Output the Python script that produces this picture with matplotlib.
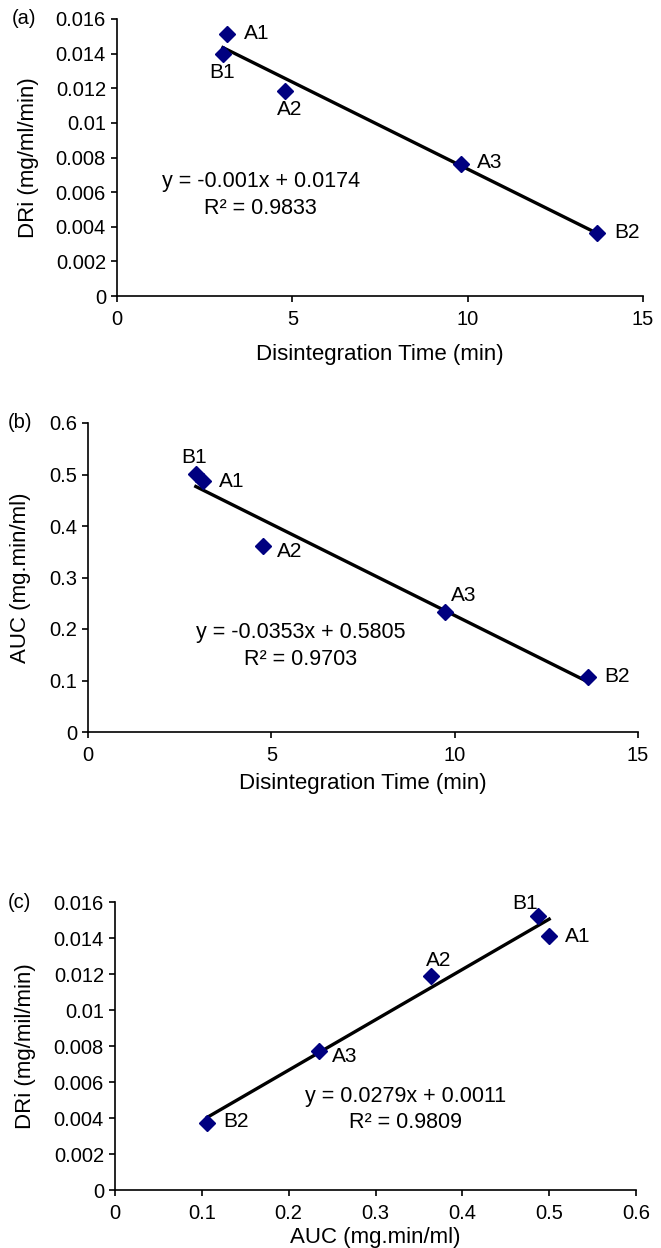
import numpy as np
import matplotlib
matplotlib.use("Agg")
import matplotlib.pyplot as plt
from matplotlib.ticker import FuncFormatter

plt.rcParams['font.family'] = ['Liberation Sans', 'DejaVu Sans']

# ---- data ----
labels_a = ["A1", "B1", "A2", "A3", "B2"]
dt_a = [3.14, 3.02, 4.80, 9.81, 13.69]
dri_a = [0.01514, 0.01398, 0.01187, 0.00764, 0.00365]
eq_a = "y = -0.001x + 0.0174"
r2_a = "R² = 0.9833"

labels_b = ["B1", "A1", "A2", "A3", "B2"]
dt_b = [2.94, 3.13, 4.78, 9.74, 13.63]
auc_b = [0.5016, 0.487, 0.362, 0.2337, 0.1068]
eq_b = "y = -0.0353x + 0.5805"
r2_b = "R² = 0.9703"

labels_c = ["B1", "A1", "A2", "A3", "B2"]
auc_c = [0.4875, 0.500, 0.3644, 0.2345, 0.1065]
dri_c = [0.01522, 0.01410, 0.01188, 0.00773, 0.00374]
eq_c = "y = 0.0279x + 0.0011"
r2_c = "R² = 0.9809"

MARKER_COLOR = "#000080"
TICK_FS = 14.5
LABEL_FS = 16
ANN_FS = 15
EQ_FS = 15.5

fig = plt.figure(figsize=(6.61, 12.48), dpi=100)

def fmt(v, pos):
    return "{:g}".format(round(v, 6))

def style(ax, xlim, ylim, xticks, yticks):
    ax.set_xlim(*xlim)
    ax.set_ylim(*ylim)
    ax.set_xticks(xticks)
    ax.set_yticks(yticks)
    ax.xaxis.set_major_formatter(FuncFormatter(fmt))
    ax.yaxis.set_major_formatter(FuncFormatter(fmt))
    for s in ("top", "right"):
        ax.spines[s].set_visible(False)
    for s in ("left", "bottom"):
        ax.spines[s].set_linewidth(1.2)
    ax.tick_params(direction="out", length=4, width=1.2, labelsize=TICK_FS, pad=4)
    ax.tick_params(axis="x", pad=6)

def plot_panel(ax, x, y, labels, offsets, eq, r2, eqpos):
    x = np.asarray(x)
    y = np.asarray(y)
    m, b = np.polyfit(x, y, 1)
    xs = np.array([x.min(), x.max()])
    ax.plot(xs, m * xs + b, color="black", lw=2.4, zorder=2, clip_on=False)
    ax.plot(x, y, linestyle="none", marker="D", markersize=8.5,
            color=MARKER_COLOR, zorder=3, clip_on=False)
    for xi, yi, lab in zip(x, y, labels):
        dx, dy, ha = offsets[lab]
        ax.annotate(lab, (xi, yi), xytext=(dx, dy), textcoords="offset pixels",
                    ha=ha, va="center", fontsize=ANN_FS)
    ax.text(eqpos[0], eqpos[1], eq, ha="center", va="center", fontsize=EQ_FS)
    ax.text(eqpos[0], eqpos[2], r2, ha="center", va="center", fontsize=EQ_FS)

# ---- panel (a) ----
ax_a = fig.add_axes([117/661, 1 - 296/1248, 526/661, 277/1248])
style(ax_a, (0, 15), (0, 0.016), [0, 5, 10, 15], np.arange(0, 0.0161, 0.002))
off_a = {"A1": (17, 0, "left"), "B1": (-1, -19, "center"), "A2": (4, -19, "center"),
         "A3": (16, 1, "left"), "B2": (17, 0, "left")}
plot_panel(ax_a, dt_a, dri_a, labels_a, off_a, eq_a, r2_a, (4.1, 0.00659, 0.00505))
ax_a.set_xlabel("Disintegration Time (min)", fontsize=LABEL_FS, labelpad=11)
ax_a.set_ylabel("DRi (mg/ml/min)", fontsize=LABEL_FS)
ax_a.yaxis.set_label_coords(-0.148, 0.5)
fig.text(12/661, 1 - 19/1248, "(a)", fontsize=TICK_FS, va="center", ha="left")

# ---- panel (b) ----
ax_b = fig.add_axes([88/661, 1 - 732/1248, 550/661, 309/1248])
style(ax_b, (0, 15), (0, 0.6), [0, 5, 10, 15], np.arange(0, 0.61, 0.1))
off_b = {"B1": (-2, 16, "center"), "A1": (16, 0, "left"), "A2": (14, -6, "left"),
         "A3": (6, 16, "left"), "B2": (16, 0, "left")}
plot_panel(ax_b, dt_b, auc_b, labels_b, off_b, eq_b, r2_b, (5.8, 0.193, 0.141))
ax_b.set_xlabel("Disintegration Time (min)", fontsize=LABEL_FS, labelpad=6)
ax_b.set_ylabel("AUC (mg.min/ml)", fontsize=LABEL_FS)
ax_b.yaxis.set_label_coords(-0.104, 0.5)
fig.text(8/661, 1 - 422/1248, "(b)", fontsize=TICK_FS, va="center", ha="left")

# ---- panel (c) ----
ax_c = fig.add_axes([115/661, 1 - 1190/1248, 521/661, 288/1248])
style(ax_c, (0, 0.6), (0, 0.016), np.arange(0, 0.61, 0.1), np.arange(0, 0.0161, 0.002))
off_c = {"B1": (-13, 13, "center"), "A1": (16, 0, "left"), "A2": (7, 16, "center"),
         "A3": (13, -6, "left"), "B2": (16, 1, "left")}
plot_panel(ax_c, auc_c, dri_c, labels_c, off_c, eq_c, r2_c, (0.335, 0.00522, 0.00374))
ax_c.set_xlabel("AUC (mg.min/ml)", fontsize=LABEL_FS, labelpad=3)
ax_c.set_ylabel("DRi (mg/mil/min)", fontsize=LABEL_FS)
ax_c.yaxis.set_label_coords(-0.152, 0.5)
fig.text(8/661, 1 - 902/1248, "(c)", fontsize=TICK_FS, va="center", ha="left")

fig.savefig("out.png", dpi=100)
